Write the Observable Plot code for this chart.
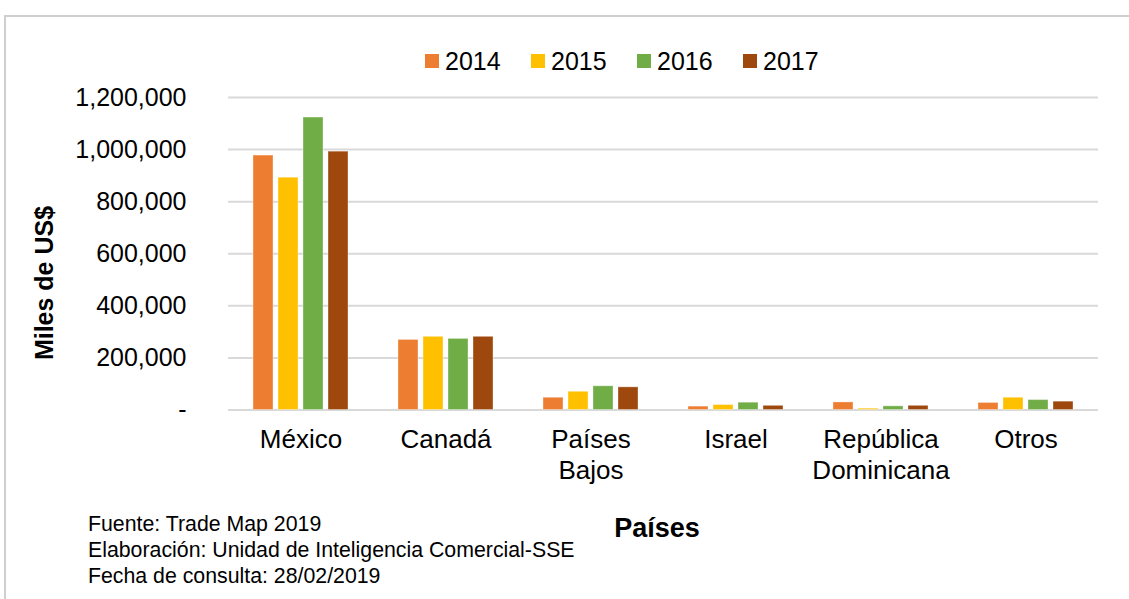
<!DOCTYPE html>
<html>
<head>
<meta charset="utf-8">
<script src="https://cdn.jsdelivr.net/npm/d3@7"></script>
<script src="https://cdn.jsdelivr.net/npm/@observablehq/plot@0.6"></script>
<style>
  html, body { margin: 0; padding: 0; background: #fff; }
  body { width: 1129px; height: 599px; position: relative; overflow: hidden; font-family: "Liberation Sans", Arial, sans-serif; color: #000; }
  #frame { position: absolute; left: 4px; top: 15px; width: 1200px; height: 700px; border-top: 2px solid #cfcfcf; border-left: 2px solid #cfcfcf; }
  #chart { position: absolute; left: 0; top: 0; }
  .leg { position: absolute; top: 47px; font-size: 25px; line-height: 28px; display: flex; align-items: center; }
  .leg span.sw { display: inline-block; width: 14px; height: 14px; margin-right: 6px; }
  #ylabel { position: absolute; left: 44px; top: 283px; transform: translate(-50%, -50%) rotate(-90deg); font-weight: bold; font-size: 25px; white-space: nowrap; }
  #xlabel { position: absolute; left: 657px; top: 513px; transform: translateX(-50%); font-weight: bold; font-size: 27px; white-space: nowrap; }
  #caption { position: absolute; left: 88px; top: 511px; font-size: 21.3px; line-height: 26px; white-space: nowrap; }
</style>
</head>
<body>
<div id="frame"></div>
<div id="chart"></div>
<div id="legend"></div>
<div id="ylabel">Miles de US$</div>
<div id="xlabel">Países</div>
<div id="caption">Fuente: Trade Map 2019<br>Elaboración: Unidad de Inteligencia Comercial-SSE<br>Fecha de consulta: 28/02/2019</div>
<script>
const countries = ["México", "Canadá", "Países Bajos", "Israel", "República Dominicana", "Otros"];
const countryLabels = ["México", "Canadá", "Países\nBajos", "Israel", "República\nDominicana", "Otros"];
const years = ["2014", "2015", "2016", "2017"];
const colors = ["#ED7D31", "#FFC000", "#70AD47", "#9E480E"];
const v2014 = [977000, 269000, 47000, 13000, 29000, 27000];
const v2015 = [892000, 281000, 70000, 19000, 5000, 47000];
const v2016 = [1123000, 273000, 91000, 28000, 14000, 38000];
const v2017 = [992000, 281000, 87000, 16000, 16000, 32000];
const yTicks = [0, 200000, 400000, 600000, 800000, 1000000, 1200000];

const series = [v2014, v2015, v2016, v2017];
const data = [];
countries.forEach((c, i) => years.forEach((y, j) => data.push({country: c, year: y, value: series[j][i]})));

// legend
const legend = document.getElementById("legend");
const legLeft = [425, 531, 637, 743];
years.forEach((y, j) => {
  const d = document.createElement("div");
  d.className = "leg";
  d.style.left = legLeft[j] + "px";
  d.innerHTML = `<span class="sw" style="background:${colors[j]}"></span>${y}`;
  legend.appendChild(d);
});

const fmt = d3.format(",");
const chart = Plot.plot({
  width: 1129,
  height: 500,
  marginTop: 97,
  marginBottom: 90.5,
  marginLeft: 225,
  marginRight: 29,
  style: {fontFamily: "'Liberation Sans', Arial, sans-serif", background: "transparent", color: "#000"},
  fx: {domain: countries, padding: 0, axis: null, label: null},
  x: {domain: years, paddingInner: 0.19, paddingOuter: 0.93, axis: null, label: null},
  y: {domain: [0, 1200000], axis: null, label: null},
  color: {domain: years, range: colors},
  marks: [
    Plot.ruleY(yTicks, {stroke: "#d9d9d9", strokeWidth: 2}),
    Plot.barY(data, {fx: "country", x: "year", y: "value", fill: "year", stroke: "#ffffff", strokeOpacity: 0.35, strokeWidth: 1}),
    Plot.axisY({ticks: yTicks, tickFormat: d => d === 0 ? "-" : fmt(d), tickSize: 0, tickPadding: 42, fontSize: 25, label: null}),
    Plot.axisFx({anchor: "bottom", tickFormat: d => countryLabels[countries.indexOf(d)], tickSize: 0, tickPadding: 16, fontSize: 26, lineHeight: 1.2, label: null})
  ]
});
document.getElementById("chart").appendChild(chart);
</script>
</body>
</html>
